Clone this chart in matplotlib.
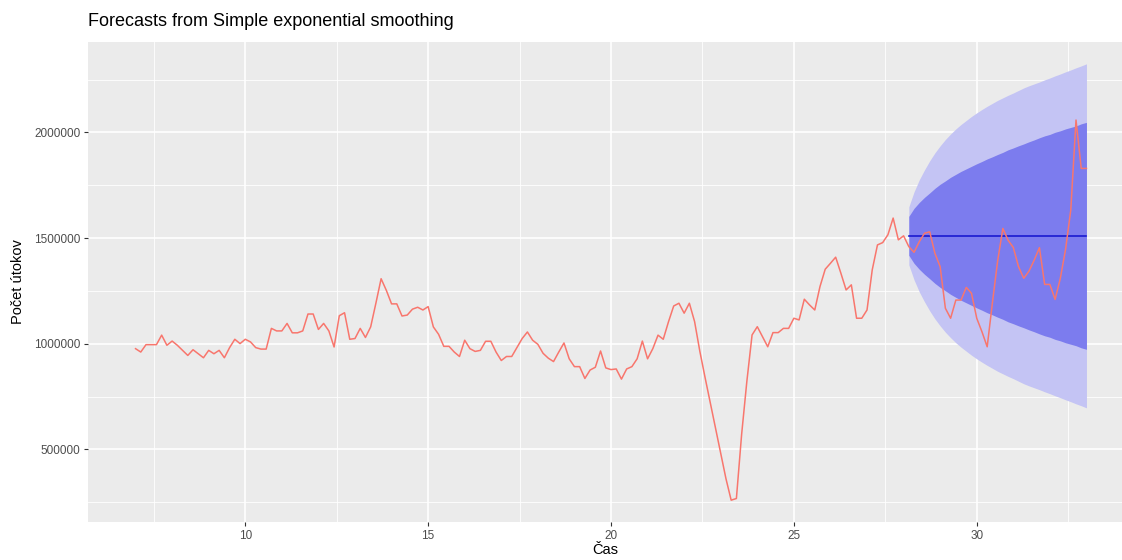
import numpy as np
import matplotlib.pyplot as plt

# pozorovane utoky (tyzdenna frekvencia 7, start 7.0)
attacks = [
    977000, 961000, 996000, 996000, 996000, 1041000, 993000, 1013000, 993000, 969000,
    945000, 972000, 953000, 934000, 969000, 953000, 969000, 934000, 982000, 1021500,
    1001000, 1021500, 1009000, 982000, 975000, 975000, 1073000, 1061000, 1061000, 1096500,
    1052000, 1052000, 1061000, 1141000, 1141000, 1068000, 1096500, 1061000, 985000, 1133000,
    1147000, 1021500, 1025000, 1073000, 1030000, 1080000, 1192000, 1308000, 1253000, 1189000,
    1189000, 1131600, 1136000, 1164000, 1173000, 1160000, 1176000, 1080000, 1045000, 988000,
    988000, 961000, 940000, 1017000, 977000, 964000, 969000, 1012000, 1012000, 961000,
    921000, 940000, 940000, 982000, 1025000, 1056000, 1017000, 997600, 955000, 932000,
    916000, 961000, 1004000, 929000, 892000, 892000, 836000, 876000, 889000, 966000,
    886000, 878000, 881000, 833000, 881000, 892000, 929000, 1013000, 929000, 977000,
    1041000, 1021500, 1104000, 1179000, 1192000, 1145000, 1192000, 1105000, 965000, 841000,
    721000, 602000, 482000, 362000, 260000, 268000, 571000, 822000, 1042000, 1081000,
    1034000, 986000, 1053000, 1053000, 1073000, 1073000, 1121000, 1113000, 1211000, 1184000,
    1160000, 1271000, 1353000, 1381000, 1410000, 1334000, 1255000, 1279000, 1121000, 1121000,
    1160000, 1350000, 1468000, 1479000, 1516000, 1595000, 1492000, 1511000, 1460000, 1433000,
    1483000, 1523000, 1530000, 1428000, 1365000, 1168000, 1121000, 1207000, 1207000, 1267000,
    1239000, 1121000, 1057000, 986000, 1194000, 1392000, 1546000, 1490000, 1456000, 1365000,
    1310000, 1344000, 1396000, 1455000, 1281000, 1281000, 1210000, 1310000, 1447000, 1633000,
    2059000, 1830000, 1830000,
]

# predpoved SES (h = 35)
fc_mean = [1511000] * 35
hi80 = [1603000, 1641000, 1669000, 1693000, 1714000, 1736000, 1755000, 1771000, 1788000, 1802000,
        1816000, 1828000, 1840000, 1852000, 1863000, 1875000, 1885000, 1896000, 1906000, 1918000,
        1927000, 1937000, 1946000, 1956000, 1965000, 1975000, 1984000, 1991000, 2001000, 2008000,
        2017000, 2024000, 2031000, 2041000, 2048000]
lo80 = [1419000, 1381000, 1353000, 1329000, 1308000, 1286000, 1267000, 1251000, 1234000, 1220000,
        1206000, 1194000, 1182000, 1170000, 1159000, 1147000, 1137000, 1126000, 1116000, 1104000,
        1095000, 1085000, 1076000, 1066000, 1057000, 1047000, 1038000, 1031000, 1021000, 1014000,
        1005000, 998000, 991000, 981000, 974000]
hi95 = [1648000, 1719000, 1776000, 1823000, 1866000, 1904000, 1937000, 1967000, 1993000, 2017000,
        2038000, 2057000, 2076000, 2093000, 2109000, 2124000, 2138000, 2152000, 2164000, 2176000,
        2187000, 2199000, 2211000, 2221000, 2230000, 2239000, 2249000, 2258000, 2268000, 2277000,
        2287000, 2296000, 2306000, 2315000, 2325000]
lo95 = [1374000, 1303000, 1246000, 1199000, 1156000, 1118000, 1085000, 1055000, 1029000, 1005000,
        984000, 965000, 946000, 929000, 913000, 898000, 884000, 870000, 858000, 846000,
        835000, 823000, 811000, 801000, 792000, 783000, 773000, 764000, 754000, 745000,
        735000, 726000, 716000, 707000, 697000]

x_ticks = [10, 15, 20, 25, 30]
y_ticks = [500000, 1000000, 1500000, 2000000]

t_obs = 7 + np.arange(len(attacks)) / 7
t_fc = 28 + np.arange(1, len(fc_mean) + 1) / 7

W, H = 1122, 560
fig = plt.figure(figsize=(W / 100, H / 100), dpi=100)
plt.rcParams['font.family'] = ['Liberation Sans', 'DejaVu Sans']

# panel 88..1134 px (pravy okraj orezany ako v povodnom obrazku)
ax = fig.add_axes([88 / W, 38 / H, (1134 - 88) / W, (522 - 42) / H])
ax.set_facecolor('#EBEBEB')

ax.fill_between(t_fc, lo95, hi95, color='#C4C4F4', lw=0, zorder=2)
ax.fill_between(t_fc, lo80, hi80, color='#7C7CEE', lw=0, zorder=3)
ax.plot(t_fc, fc_mean, color='#1A1AD0', lw=1.2, zorder=4)
ax.plot(t_obs, attacks, color='#F8766D', lw=1.1, zorder=5)

ax.set_xlim(5.7, 34.3)
ax.set_ylim(156750, 2428250)

ax.set_xticks(x_ticks)
ax.set_xticks([7.5, 12.5, 17.5, 22.5, 27.5, 32.5], minor=True)
ax.set_yticks(y_ticks)
ax.set_yticks([250000, 750000, 1250000, 1750000, 2250000], minor=True)
ax.set_xticklabels([str(v) for v in x_ticks])
ax.set_yticklabels([str(v) for v in y_ticks])

ax.grid(which='major', color='white', lw=1.2, zorder=0)
ax.grid(which='minor', color='white', lw=0.6, zorder=0)
ax.set_axisbelow(True)
for s in ax.spines.values():
    s.set_visible(False)
ax.tick_params(which='major', length=3, width=0.8, color='#333333',
               labelcolor='#4D4D4D', labelsize=8.5, pad=2.5)
ax.tick_params(which='minor', length=0)

fig.text(88 / W, 1 - 22 / H, 'Forecasts from Simple exponential smoothing',
         fontsize=13, color='black', ha='left', va='center')
fig.text(18 / W, 1 - 282 / H, 'Počet útokov', fontsize=10.5, rotation=90,
         ha='center', va='center', color='black')
fig.text(605 / W, 1 - 550 / H, 'Čas', fontsize=10.5, ha='center', va='center',
         color='black')

fig.savefig('out.png', dpi=100)
